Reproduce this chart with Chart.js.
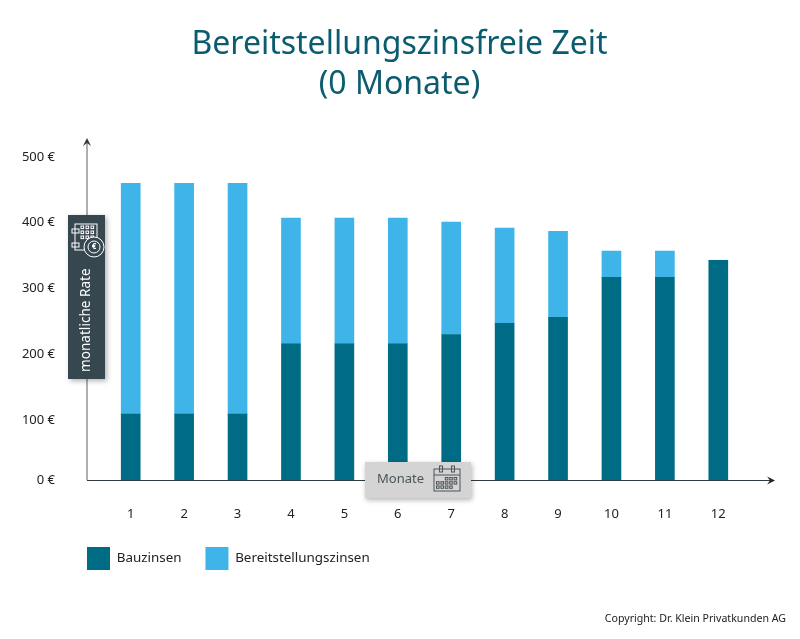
<!DOCTYPE html>
<html>
<head>
<meta charset="utf-8">
<style>
html, body { margin: 0; padding: 0; background: #fff; }
#wrap { width: 800px; height: 639px; }
</style>
<script src="https://cdn.jsdelivr.net/npm/chart.js@4/dist/chart.umd.min.js"></script>
</head>
<body>
<div id="wrap"><canvas id="chart" width="800" height="639"></canvas></div>
<script>
const months = ['1', '2', '3', '4', '5', '6', '7', '8', '9', '10', '11', '12'];
const bauzinsen = [109, 109, 109, 216, 216, 216, 230, 247, 256, 317, 317, 343];
const bereitstellungszinsen = [351, 351, 351, 191, 191, 191, 171, 145, 131, 40, 40, 0];
const yTicks = [100, 200, 300, 400, 500];

const FONT = '"Noto Sans", sans-serif';
const AXIS_FLOOR = 8.7;   // the picture's 0 € label sits on the axis, not on the linear zero

function arrowHead(ctx, x, y, dx, dy) {
    ctx.beginPath();
    ctx.moveTo(x, y);
    ctx.lineTo(x - dx * 8 + dy * 4, y - dy * 8 + dx * 4);
    ctx.lineTo(x - dx * 5, y - dy * 5);
    ctx.lineTo(x - dx * 8 - dy * 4, y - dy * 8 - dx * 4);
    ctx.closePath();
    ctx.fill();
}

function calendarIcon(ctx, x, y, w, h, color) {
    ctx.strokeStyle = color;
    ctx.lineWidth = 1;
    ctx.strokeRect(x, y + 3, w, h - 3);
    ctx.beginPath();
    ctx.moveTo(x, y + 9);
    ctx.lineTo(x + w, y + 9);
    ctx.stroke();
    [0.27, 0.73].forEach(f => {
        ctx.strokeRect(x + w * f - 1.5, y, 3, 6);
    });
    for (let r = 0; r < 3; r++) {
        for (let c = 0; c < 5; c++) {
            if ((r === 0 && c < 2) || (r === 2 && c > 3)) continue;
            ctx.strokeRect(x + 2.5 + c * 4.4, y + 11.5 + r * 4.2, 2.6, 2.4);
        }
    }
}

const decorations = {
    id: 'decorations',
    beforeDraw(chart) {
        // legend sits under the axis start, not at the canvas edge
        chart.legend.left = 87 - chart.legend.options.labels.padding;
        chart.legend.top = 523;
        // title is centred on the page, not on the plot
        chart.titleBlock.left = 0;
        chart.titleBlock.right = 799;
    },
    beforeDatasetsDraw(chart) {
        const { ctx, scales: { y } } = chart;
        ctx.save();
        ctx.strokeStyle = '#8f9699';
        ctx.lineWidth = 1.5;
        ctx.beginPath();
        ctx.moveTo(87, y.bottom);
        ctx.lineTo(87, y.top + 4);
        ctx.stroke();
        ctx.fillStyle = '#2e3a40';
        arrowHead(ctx, 87, y.top, 0, -1);
        ctx.restore();
    },
    afterDatasetsDraw(chart) {
        const { ctx, scales: { y } } = chart;
        const yBase = y.bottom;
        ctx.save();
        ctx.strokeStyle = '#2e3a40';
        ctx.lineWidth = 1;
        ctx.beginPath();
        ctx.moveTo(87, yBase + 0.5);
        ctx.lineTo(770, yBase + 0.5);
        ctx.stroke();
        ctx.fillStyle = '#1d2528';
        arrowHead(ctx, 775, yBase + 0.5, 1, 0);

        // badge on the y axis
        ctx.save();
        ctx.shadowColor = 'rgba(0,0,0,0.3)';
        ctx.shadowBlur = 5;
        ctx.shadowOffsetX = 2;
        ctx.shadowOffsetY = 2;
        ctx.fillStyle = '#37474f';
        ctx.fillRect(68, 215, 37, 164);
        ctx.restore();
        ctx.save();
        ctx.translate(86, 372);
        ctx.rotate(-Math.PI / 2);
        ctx.fillStyle = '#ffffff';
        ctx.font = '13.6px ' + FONT;
        ctx.textBaseline = 'alphabetic';
        ctx.textAlign = 'left';
        ctx.fillText('monatliche Rate', 0, 4);
        ctx.restore();
        ctx.strokeStyle = '#ffffff';
        ctx.lineWidth = 1;
        ctx.strokeRect(75, 224, 22, 26);
        [231, 245].forEach(cy => ctx.strokeRect(72, cy - 2, 7, 4));
        for (let r = 0; r < 3; r++) {
            for (let c = 0; c < 3; c++) {
                ctx.strokeRect(81 + c * 5, 226 + r * 5, 2.6, 2.6);
            }
        }
        ctx.fillStyle = '#37474f';
        ctx.beginPath();
        ctx.arc(94, 247, 10, 0, Math.PI * 2);
        ctx.fill();
        ctx.stroke();
        ctx.beginPath();
        ctx.arc(94, 247, 6, 0, Math.PI * 2);
        ctx.stroke();
        ctx.fillStyle = '#ffffff';
        ctx.font = 'bold 8px ' + FONT;
        ctx.textAlign = 'center';
        ctx.textBaseline = 'middle';
        ctx.fillText('€', 94, 247);

        // badge on the x axis
        ctx.save();
        ctx.shadowColor = 'rgba(0,0,0,0.3)';
        ctx.shadowBlur = 5;
        ctx.shadowOffsetX = 1;
        ctx.shadowOffsetY = 2;
        ctx.fillStyle = '#d4d4d4';
        ctx.fillRect(365, 462, 106, 36);
        ctx.restore();
        ctx.fillStyle = '#4a5459';
        ctx.font = '13px ' + FONT;
        ctx.textAlign = 'left';
        ctx.textBaseline = 'middle';
        ctx.fillText('Monate', 377, 479);
        calendarIcon(ctx, 434, 466, 26, 25, '#4a5459');

        ctx.fillStyle = '#222222';
        ctx.font = '10.6px ' + FONT;
        ctx.textAlign = 'right';
        ctx.textBaseline = 'middle';
        ctx.fillText('Copyright: Dr. Klein Privatkunden AG', 786, 619);
        ctx.restore();
    }
};

new Chart(document.getElementById('chart'), {
    type: 'bar',
    data: {
        labels: months,
        datasets: [
            { label: 'Bauzinsen', data: bauzinsen, backgroundColor: '#006b85' },
            { label: 'Bereitstellungszinsen', data: bereitstellungszinsen, backgroundColor: '#3fb4e8' }
        ]
    },
    options: {
        responsive: false,
        animation: false,
        layout: { padding: { left: 0, right: 55, top: 0, bottom: 0 } },
        datasets: { bar: { barThickness: 19 } },
        plugins: {
            title: {
                display: true,
                text: ['Bereitstellungszinsfreie Zeit', '(0 Monate)'],
                color: '#0b5c6e',
                font: { family: FONT, size: 32, weight: 'normal', lineHeight: 1.25 },
                padding: { top: 25, bottom: 33 }
            },
            legend: {
                position: 'bottom',
                align: 'start',
                labels: {
                    boxWidth: 23,
                    boxHeight: 23,
                    padding: 24,
                    color: '#222222',
                    font: { family: FONT, size: 13.4 }
                }
            },
            tooltip: { enabled: false }
        },
        scales: {
            x: {
                stacked: true,
                grid: { display: false },
                border: { display: false },
                ticks: { color: '#222222', font: { family: FONT, size: 13 }, padding: 18 },
                afterFit(scale) {
                    scale.height = 102;
                }
            },
            y: {
                stacked: true,
                min: AXIS_FLOOR,
                max: 529,
                grid: { display: false, drawTicks: false },
                border: { display: false },
                afterBuildTicks(scale) {
                    scale.ticks = [AXIS_FLOOR].concat(yTicks).map(v => ({ value: v }));
                },
                afterFit(scale) {
                    scale.width = 104;
                },
                ticks: {
                    color: '#222222',
                    font: { family: FONT, size: 13 },
                    padding: 49,
                    callback: v => (v === AXIS_FLOOR ? 0 : v) + ' €'
                }
            }
        }
    },
    plugins: [decorations]
});
</script>
</body>
</html>
